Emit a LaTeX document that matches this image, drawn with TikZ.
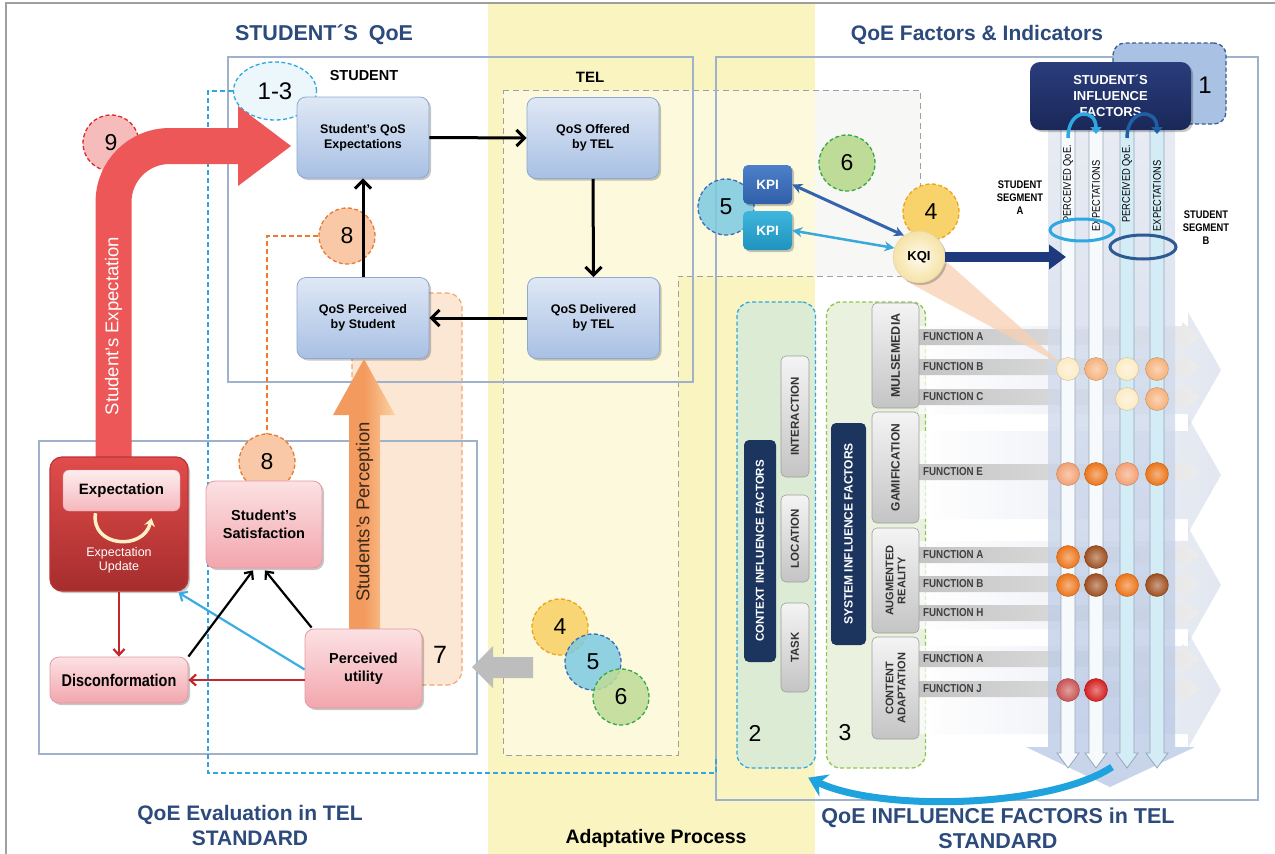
\documentclass[tikz,border=0pt]{standalone}
\usepackage{fontspec}
\setmainfont{Liberation Sans}
\newfontfamily\narrowsf[FakeStretch=0.85]{Liberation Sans}
\usetikzlibrary{arrows.meta,shadows,shapes.geometric,calc}

\definecolor{titleblue}{HTML}{2C4A7C}
\definecolor{panelline}{HTML}{9FB1CB}
\definecolor{bandyellow}{HTML}{FAF5C0}
\definecolor{dashgrey}{HTML}{A0A0A0}
\definecolor{regiongrey}{HTML}{F1F2EF}
\definecolor{skyblue}{HTML}{2FA7E0}
\definecolor{orangedash}{HTML}{E97B2E}
\definecolor{peachfill}{HTML}{F9C9A7}
\definecolor{regionorange}{HTML}{FCE7D5}
\definecolor{regionorangeline}{HTML}{F3A66E}
\definecolor{redcirc}{HTML}{F6BCBC}
\definecolor{redcircline}{HTML}{E0262E}
\definecolor{arrowred}{HTML}{EE5757}
\definecolor{yellowcirc}{HTML}{F8D36C}
\definecolor{yellowcircline}{HTML}{EFA31B}
\definecolor{bluecirc}{HTML}{7DCBE1}
\definecolor{bluecircline}{HTML}{3E6DB5}
\definecolor{greencirc}{HTML}{BEDC97}
\definecolor{greencircline}{HTML}{38A845}
\definecolor{boxblueT}{HTML}{DFE8F5}
\definecolor{boxblueB}{HTML}{A8C0E4}
\definecolor{boxblueline}{HTML}{8FA8D0}
\definecolor{pinkT}{HTML}{FCE1E3}
\definecolor{pinkB}{HTML}{F2A6AD}
\definecolor{pinkline}{HTML}{E29AA2}
\definecolor{expredT}{HTML}{E24C4C}
\definecolor{expredB}{HTML}{A62D2D}
\definecolor{expredline}{HTML}{B93535}
\definecolor{redline}{HTML}{C4262E}
\definecolor{cyanline}{HTML}{3AAEE2}
\definecolor{orangeL}{HTML}{F39A5E}
\definecolor{orangeR}{HTML}{FBD3A3}
\definecolor{perctext}{HTML}{3B2A1A}
\definecolor{greyarrow}{HTML}{BDBDBD}
\definecolor{kpiA}{HTML}{2F5FA8}
\definecolor{kpiAT}{HTML}{4D80C9}
\definecolor{kpiB}{HTML}{1F93BE}
\definecolor{kpiBT}{HTML}{3FB6DD}
\definecolor{kpiline1}{HTML}{3464AE}
\definecolor{kpiline2}{HTML}{3AA9D9}
\definecolor{kqiIn}{HTML}{FFFBEE}
\definecolor{kqiOut}{HTML}{F5E2A5}
\definecolor{navyarrow}{HTML}{1F3A7C}
\definecolor{navyT}{HTML}{2A3D7C}
\definecolor{navyB}{HTML}{1A2858}
\definecolor{infbox}{HTML}{A9C1E2}
\definecolor{infboxline}{HTML}{3D5B8E}
\definecolor{ctxfill}{HTML}{DCEBD3}
\definecolor{sysfill}{HTML}{EAF2DF}
\definecolor{sysline}{HTML}{8DC74C}
\definecolor{navybarc}{HTML}{1B355F}
\definecolor{greyT}{HTML}{F4F4F4}
\definecolor{greyB}{HTML}{C4C4C4}
\definecolor{greyline}{HTML}{9E9E9E}
\definecolor{barL}{HTML}{C4C4C4}
\definecolor{barR}{HTML}{ECECEC}
\definecolor{chev}{HTML}{D6DDEB}
\definecolor{bandT}{HTML}{E0E5EF}
\definecolor{bandB}{HTML}{B4C5E4}
\definecolor{colA}{HTML}{F6FAFD}
\definecolor{colB}{HTML}{D3ECF6}
\definecolor{colline}{HTML}{97A6B8}
\definecolor{arcA}{HTML}{2DA8E2}
\definecolor{arcB}{HTML}{1F5FA5}
\definecolor{ringB}{HTML}{2C5A92}
\definecolor{cream}{HTML}{FCEBC4}
\definecolor{lorange}{HTML}{F6B17A}
\definecolor{salmon}{HTML}{F3A072}
\definecolor{dorange}{HTML}{EC7418}
\definecolor{brown}{HTML}{9E4E1E}
\definecolor{mred}{HTML}{C95353}
\definecolor{bred}{HTML}{D41F1F}
\definecolor{cone}{HTML}{F9D0B2}
\definecolor{curveblue}{HTML}{1EA3DE}
\definecolor{loopcream}{HTML}{FFF1C4}

\tikzset{
  softshadow/.style={drop shadow={shadow xshift=2pt, shadow yshift=-2pt, opacity=0.22, fill=black}},
  bluebox/.style={rounded corners=9pt, draw=boxblueline, line width=0.8pt,
    top color=boxblueT, bottom color=boxblueB, minimum width=132pt, minimum height=81pt,
    inner sep=0pt, align=center, font=\bfseries\fontsize{12.5}{15}\selectfont, softshadow},
  pinkbox/.style={rounded corners=9pt, draw=pinkline, line width=0.8pt,
    top color=pinkT, bottom color=pinkB, inner sep=0pt, align=center, softshadow},
  numcirc/.style={circle, minimum size=56pt, inner sep=0pt, line width=1.3pt,
    dash pattern=on 4pt off 2.5pt, font=\fontsize{23}{23}\selectfont},
  flowarrow/.style={line width=3pt, -{Straight Barb[length=8pt,width=16pt]}},
  evalarrow/.style={line width=2.2pt, -{Straight Barb[length=6pt,width=11pt]}},
  greybox/.style={rotate=90, rounded corners=5pt, draw=greyline, line width=0.6pt,
    top color=greyT, bottom color=greyB, inner sep=0pt, align=center, text=black!80,
    font=\bfseries\fontsize{11.5}{12.5}\selectfont},
  navybox/.style={rotate=90, rounded corners=5pt, fill=navybarc, inner sep=0pt,
    text=white, font=\bfseries\fontsize{11.5}{12}\selectfont},
  funclabel/.style={anchor=west, inner sep=0pt, text=black!75,
    font=\bfseries\narrowsf\fontsize{11.5}{11.5}\selectfont},
  ballnode/.style={circle, minimum size=23pt, inner sep=0pt,
    inner color=#1!55!white, outer color=#1, draw=#1!80!black, line width=0.4pt},
  collabel/.style={rotate=90, inner sep=0pt, font=\narrowsf\fontsize{11}{11}\selectfont},
  titletext/.style={text=titleblue, align=center, font=\bfseries\fontsize{21}{25}\selectfont},
}

\begin{document}
\begin{tikzpicture}[x=1pt,y=-1pt]
% ---------- canvas ----------
\fill[white] (0,0) rectangle (1275,854);
\useasboundingbox (0,0) rectangle (1275,854);
\draw[gray!75, line width=1.2pt] (6,854) -- (6,3) -- (1275,3);
\fill[bandyellow] (488,4) rectangle (815,854);

% ---------- TEL / indicators region ----------
\fill[regiongrey] (815,90) rectangle (920,276);
\draw[dashgrey, line width=1pt, dash pattern=on 6pt off 4pt, fill=white, fill opacity=0.45]
  (503,90) -- (920,90) -- (920,276) -- (678,276) -- (678,755) -- (503,755) -- cycle;

% ---------- perception region (7) ----------
\draw[regionorangeline, fill=regionorange, line width=1.2pt, dash pattern=on 5pt off 3pt,
  rounded corners=15pt] (352,293) rectangle (462,685);

% ---------- panels ----------
\draw[panelline, line width=1.3pt] (228,57) rectangle (693,382);
\draw[panelline, line width=1.3pt] (716,57) rectangle (1258,800);
\draw[panelline, line width=1.3pt] (39,441) rectangle (477,754);

% ---------- titles ----------
\node[titletext, font=\bfseries\fontsize{21.5}{25}\selectfont] (tqoe) at (324,35) {STUDENT´S\enspace QoE};
\node[titletext] (tfac) at (977,35) {QoE Factors \& Indicators};
\node[titletext] (teval) at (250,825) {QoE Evaluation in TEL\\STANDARD};
\node[titletext, font=\bfseries\fontsize{21.5}{25}\selectfont] (tinf) at (998,828) {QoE INFLUENCE FACTORS in TEL\\STANDARD};
\node[font=\bfseries\fontsize{19.5}{19.5}\selectfont] (tadapt) at (656,838) {Adaptative Process};
\node[font=\bfseries\fontsize{14.5}{14.5}\selectfont] (lstudent) at (364,76) {STUDENT};
\node[font=\bfseries\fontsize{15}{15}\selectfont] (ltel) at (590,77) {TEL};

% ---------- student expectation loop ----------
\node[ellipse, minimum width=83pt, minimum height=58pt, inner sep=0pt, fill=skyblue!9,
  draw=skyblue, line width=1.3pt, dash pattern=on 4pt off 2.5pt,
  font=\fontsize{24}{24}\selectfont] (e13) at (275,91) {1-3};
\coordinate (ctxlink) at (716,757);
\draw[skyblue, line width=1.4pt, dash pattern=on 5pt off 3pt] (e13.west) -| (208,773) -| (ctxlink);

\node[numcirc, fill=redcirc, draw=redcircline] (c9) at (111,143) {9};
\draw[arrowred, line width=36pt, rounded corners=56pt] (113.5,458) |- (239,146);
\fill[arrowred] (238,106) -- (291,146) -- (238,186) -- cycle;
\node[rotate=90, text=white, font=\fontsize{18.5}{18.5}\selectfont] (lblexp) at (113.5,326) {Student's Expectation};

% ---------- QoS cycle ----------
\node[bluebox] (qosexp) at (363,137.5) {Student's QoS\\Expectations};
\node[bluebox] (qosoff) at (593,138) {QoS Offered\\by TEL};
\node[bluebox] (qosdel) at (593.5,318) {QoS Delivered\\by TEL};
\node[bluebox] (qosper) at (363,318) {QoS Perceived\\by Student};
\node[numcirc, fill=peachfill, draw=orangedash] (c8a) at (347,236) {8};
\draw[flowarrow] (qosexp.east) -- (qosoff.west);
\draw[flowarrow] (qosoff.south) -- (qosdel.north);
\draw[flowarrow] (qosdel.west) -- (qosper.east);
\draw[flowarrow] (qosper.north) -- (qosexp.south);

% ---------- perception arrow ----------
\shade[left color=orangeL, right color=orangeR, middle color=orangeL]
  (349,629) -- (349,415) -- (333,415) -- (364,359) -- (395,415) -- (380,415) -- (380,629) -- cycle;
\node[rotate=90, text=perctext, font=\fontsize{18.5}{18.5}\selectfont] (lblperc) at (364.5,512) {Students's Perception};

% ---------- QoE evaluation ----------
\node[numcirc, fill=peachfill, draw=orangedash] (c8b) at (267,462) {8};
\draw[orangedash, line width=1.3pt, dash pattern=on 5pt off 3pt] (c8a.west) -| (c8b.north);
\node[pinkbox, minimum width=116pt, minimum height=87pt, font=\bfseries\fontsize{14.5}{17.5}\selectfont]
  (sat) at (264,524.5) {Student's\\Satisfaction};
\node[rounded corners=12pt, draw=expredline, line width=1.2pt, top color=expredT, bottom color=expredB,
  minimum width=138pt, minimum height=134pt, inner sep=0pt, softshadow] (expbox) at (119,524) {};
\node[rounded corners=6pt, draw=pinkline, top color=pinkT!60!white, bottom color=pinkB!80!white,
  minimum width=117pt, minimum height=41pt, inner sep=0pt,
  font=\bfseries\fontsize{15}{15}\selectfont] (expin) at (121.5,490.5) {Expectation};
\draw[loopcream, line width=3.5pt, -{Stealth[length=8pt,width=11pt]}]
  ([xshift=-26pt,yshift=-2pt]expin.south) .. controls ([xshift=-31pt,yshift=-36pt]expin.south)
  and ([xshift=22pt,yshift=-40pt]expin.south) .. ([xshift=30pt,yshift=-7pt]expin.south);
\node[text=white, align=center, font=\fontsize{12.5}{14}\selectfont] (lupd) at (119,560) {Expectation\\Update};
\node[pinkbox, minimum width=138pt, minimum height=46pt, font=\bfseries\narrowsf\fontsize{17}{17}\selectfont]
  (disc) at (119,680) {Disconformation};
\node[pinkbox, minimum width=117pt, minimum height=79pt, font=\bfseries\fontsize{14.5}{17.5}\selectfont]
  (pu) at (363.5,668.5) {Perceived\\utility};
\node[font=\fontsize{25}{25}\selectfont] (n7) at (440,655) {7};

\draw[evalarrow, redline] (expbox.south) -- (disc.north);
\draw[evalarrow, redline] (pu.west |- disc.east) -- (disc.east);
\draw[evalarrow, cyanline] ([yshift=-1pt]pu.west) -- ([xshift=-10pt,yshift=-1pt]expbox.south east);
\draw[evalarrow, black] (disc.north east) -- ([xshift=-11pt,yshift=-2pt]sat.south);
\draw[evalarrow, black] ([xshift=7pt,yshift=1pt]pu.north west) -- ([xshift=1pt,yshift=-2pt]sat.south);

% ---------- adaptive process ----------
\fill[greyarrow] (472,667) -- (493,646) -- (493,657) -- (533,657) -- (533,678) -- (493,678) -- (493,688) -- cycle;
\node[numcirc, fill=yellowcirc, fill opacity=0.9, text opacity=1, draw=yellowcircline] (c4b) at (560,627) {4};
\node[numcirc, fill=bluecirc, fill opacity=0.85, text opacity=1, draw=bluecircline] (c5b) at (593,662) {5};
\node[numcirc, fill=greencirc, fill opacity=0.85, text opacity=1, draw=greencircline] (c6b) at (621,697) {6};

% ---------- influence factor groups ----------
\node[draw=skyblue, fill=ctxfill, line width=1.3pt, dash pattern=on 4pt off 2.5pt, rounded corners=14pt,
  minimum width=78.5pt, minimum height=466pt, inner sep=0pt] (ctxbox) at (776.25,535) {};
\node[draw=sysline, fill=sysfill, line width=1.3pt, dash pattern=on 4pt off 2.5pt, rounded corners=14pt,
  minimum width=99pt, minimum height=466pt, inner sep=0pt] (sysbox) at (876,535) {};
\node[font=\fontsize{23}{23}\selectfont] (n2) at (755,733) {2};
\node[font=\fontsize{23}{23}\selectfont] (n3) at (845,733) {3};
\node[navybox, minimum width=222pt, minimum height=32pt] (ctxbar) at (760,551) {CONTEXT INFLUENCE FACTORS};
\node[navybox, minimum width=222pt, minimum height=35pt, font=\bfseries\fontsize{12}{12}\selectfont] (sysbar) at (848.5,534) {SYSTEM INFLUENCE FACTORS};
\node[greybox, minimum width=121pt, minimum height=28pt] (gint) at (795,416.5) {INTERACTION};
\node[greybox, minimum width=87pt, minimum height=28pt] (gloc) at (795,538.5) {LOCATION};
\node[greybox, minimum width=89pt, minimum height=28pt] (gtask) at (795,647.5) {TASK};

% ---------- function rows ----------
\foreach \c in {370,475,585,690}
  \shade[left color=white, right color=chev, opacity=0.7]
    (919,\c-44) -- (1188,\c-44) -- (1188,\c-58) -- (1221,\c) -- (1188,\c+58) -- (1188,\c+44) -- (919,\c+44) -- cycle;
\foreach \y/\l in {337/A,367/B,397/C,472/E,555/A,584/B,613/H,659/A,689/J} {
  \shade[left color=barL, right color=barR]
    (919,\y-8) -- (1182,\y-8) -- (1182,\y-15) -- (1200,\y) -- (1182,\y+15) -- (1182,\y+8) -- (919,\y+8) -- cycle;
  \node[funclabel] (f\y) at (923,\y) {FUNCTION \l};
}
\node[greybox, minimum width=105pt, minimum height=47pt, font=\bfseries\fontsize{12.5}{13}\selectfont] (gmul) at (895.5,355.5) {MULSEMEDIA};
\node[greybox, minimum width=111pt, minimum height=47pt, font=\bfseries\fontsize{12}{13}\selectfont] (ggam) at (895.5,467.5) {GAMIFICATION};
\node[greybox, minimum width=105pt, minimum height=47pt, font=\bfseries\fontsize{11}{12}\selectfont] (gar) at (895.5,580.5) {AUGMENTED\\REALITY};
\node[greybox, minimum width=102pt, minimum height=47pt, font=\bfseries\fontsize{11}{12}\selectfont] (gca) at (895.5,688) {CONTENT\\ADAPTATION};

% ---------- student segments ----------
\shade[top color=bandT, bottom color=bandB, opacity=0.75]
  (1048,128) -- (1175,128) -- (1175,747) -- (1195,747) -- (1110,787) -- (1026,747) -- (1048,747) -- cycle;
\foreach \x/\f in {1068/colA,1096/colA,1127/colB,1157/colB}
  \draw[colline, fill=\f, line width=0.8pt]
    (\x-7,128) -- (\x+7,128) -- (\x+7,753) -- (\x+11,753) -- (\x,768) -- (\x-11,753) -- (\x-7,753) -- cycle;
\node[collabel] (lpa) at (1068,184) {PERCEIVED QoE.};
\node[collabel] (lea) at (1096,196) {EXPECTATIONS};
\node[collabel] (lpb) at (1127,184) {PERCEIVED QoE.};
\node[collabel] (leb) at (1157,196) {EXPECTATIONS};
\draw[skyblue, line width=3pt] (1082,230) ellipse [x radius=32pt, y radius=11pt];
\draw[ringB, line width=3pt] (1143,247) ellipse [x radius=33pt, y radius=12pt];
\node[align=center, font=\bfseries\narrowsf\fontsize{11}{13}\selectfont] (sega) at (1020,198) {STUDENT\\SEGMENT\\A};
\node[align=center, font=\bfseries\narrowsf\fontsize{11}{13}\selectfont] (segb) at (1206,228) {STUDENT\\SEGMENT\\B};

% ---------- indicators ----------
\fill[cone, opacity=0.75] (906,281) -- (948,263) -- (1064,366) -- cycle;
\node[numcirc, fill=bluecirc, fill opacity=0.85, text opacity=1, draw=bluecircline] (c5t) at (726,207) {5};
\node[numcirc, fill=greencirc, draw=greencircline] (c6t) at (847,163) {6};
\node[numcirc, fill=yellowcirc, draw=yellowcircline] (c4t) at (931,212) {4};
\node[rounded corners=5pt, top color=kpiAT, bottom color=kpiA, minimum width=49pt, minimum height=39pt,
  inner sep=0pt, text=white, font=\bfseries\fontsize{13.5}{13.5}\selectfont, softshadow] (kpi1) at (767.5,184.5) {KPI};
\node[rounded corners=5pt, top color=kpiBT, bottom color=kpiB, minimum width=49pt, minimum height=39pt,
  inner sep=0pt, text=white, font=\bfseries\fontsize{13.5}{13.5}\selectfont, softshadow] (kpi2) at (767.5,230.5) {KPI};
\node[circle, minimum size=52pt, inner sep=0pt, inner color=kqiIn, outer color=kqiOut, draw=kqiOut!80!black!60,
  font=\bfseries\fontsize{13}{13}\selectfont, softshadow] (kqi) at (919,257) {KQI};
\draw[kpiline1, line width=3pt, {Stealth[length=10pt,width=10pt]}-{Stealth[length=10pt,width=10pt]}] (kpi1.east) -- (kqi.125);
\draw[kpiline2, line width=2.5pt, {Stealth[length=10pt,width=10pt]}-{Stealth[length=10pt,width=10pt]}] (kpi2.east) -- (kqi.160);
\coordinate (segin) at (1066,257);
\draw[navyarrow, line width=10pt, -{Triangle[length=17pt,width=24pt]}] (kqi.east) -- (segin);

% ---------- measurement dots ----------
\foreach \x/\y/\col in {1068/369/cream, 1096/369/lorange, 1127/369/cream, 1157/369/lorange,
  1127/399/cream, 1157/399/lorange, 1068/474/salmon, 1096/474/dorange, 1127/474/salmon, 1157/474/dorange,
  1068/557/dorange, 1096/557/brown, 1068/585/dorange, 1096/585/brown, 1127/585/dorange, 1157/585/brown,
  1068/690/mred, 1096/690/bred}
  \node[ballnode=\col] (d\x\y) at (\x,\y) {};

% ---------- student influence factors ----------
\node[draw=infboxline, fill=infbox, line width=1.3pt, dash pattern=on 4pt off 2.5pt, rounded corners=12pt,
  minimum width=113pt, minimum height=81pt, inner sep=0pt] (inf1) at (1169.5,83.5) {};
\node[font=\fontsize{24}{24}\selectfont] (n1) at (1205,85) {1};
\node[rounded corners=10pt, top color=navyT, bottom color=navyB, minimum width=161pt, minimum height=68pt,
  inner sep=0pt, text=white, align=center, font=\bfseries\fontsize{13}{16}\selectfont, softshadow]
  (inf) at (1110.5,96) {STUDENT´S\\INFLUENCE\\FACTORS};
\coordinate (pa) at (1068,138);
\coordinate (ea) at (1096,134);
\coordinate (pb) at (1127,138);
\coordinate (eb) at (1157,134);
\draw[arcA, line width=3.5pt, -{Triangle[length=7pt,width=11pt]}] (pa) .. controls (1068,108) and (1096,108) .. (ea);
\draw[arcB, line width=3.5pt, -{Triangle[length=7pt,width=11pt]}] (pb) .. controls (1127,108) and (1157,108) .. (eb);

% ---------- feedback to context ----------
\coordinate (colsfoot) at (1112,767);
\draw[curveblue, line width=7pt, -{Stealth[length=18pt,width=24pt]}]
  (colsfoot) .. controls (1050,808) and (880,812) .. ([xshift=-8pt,yshift=-9pt]ctxbox.south east);
\end{tikzpicture}
\end{document}
